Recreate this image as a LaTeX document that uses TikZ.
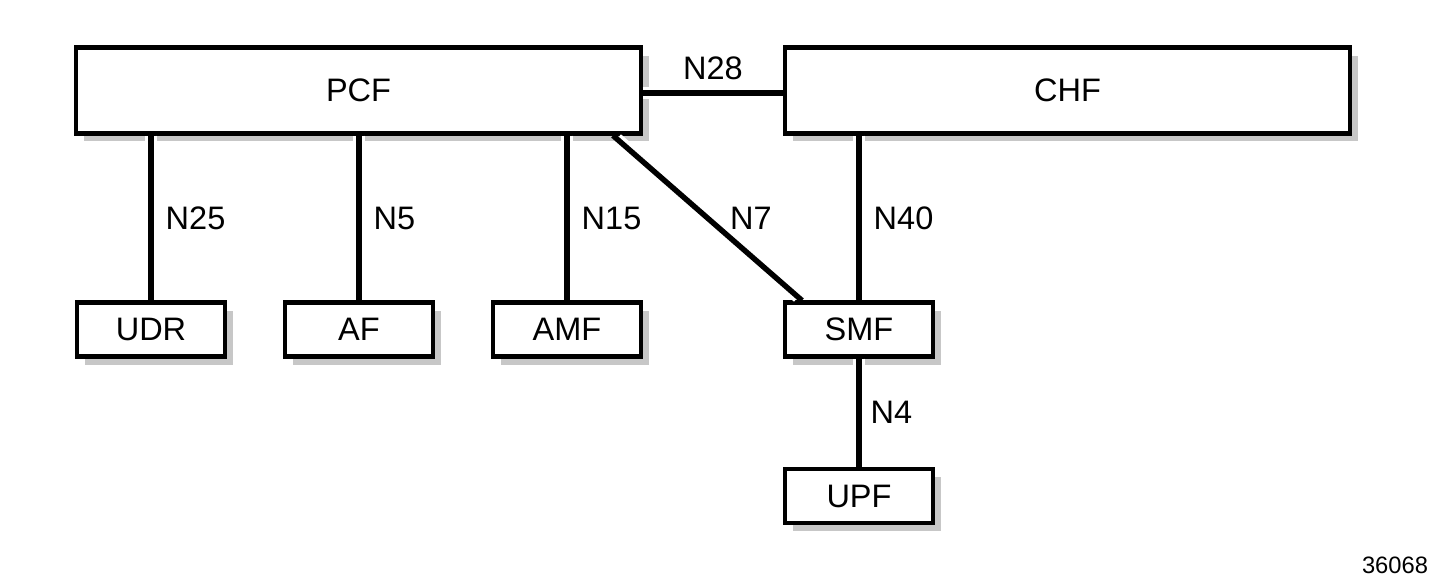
\documentclass[tikz,border=0pt]{standalone}
\usepackage{fontspec}
\setmainfont{Liberation Sans}
\usetikzlibrary{shadows, positioning}

\begin{document}
\begin{tikzpicture}[
  x=0.02cm, y=-0.02cm,
  font=\fontsize{18.5}{21}\selectfont,
  nf/.style={draw, fill=white, line width=2.3pt, inner sep=0pt,
    drop shadow={shadow xshift=0.16cm, shadow yshift=-0.16cm, fill=black!22, opacity=1}},
  bignf/.style={nf, minimum width=11.3cm, minimum height=1.72cm},
  smallnf/.style={nf, minimum width=2.96cm, minimum height=1.08cm},
  link/.style={line width=3.1pt, preaction={draw=white, line width=7pt}},
  slant/.style={line width=3.1pt, preaction={draw=white, line width=7pt, shorten <=3pt, shorten >=3pt}},
  lbl/.style={inner sep=0pt}
]
\useasboundingbox (0,0) rectangle (1435,585);

% Network functions
\node[bignf] (pcf) at (358.5,90.5) {PCF};
\node[bignf] (chf) at (1067.5,90.5) {CHF};
\node[smallnf] (udr) at (151,329.5) {UDR};
\node[smallnf] (af) at (359,329.5) {AF};
\node[smallnf] (amf) at (567,329.5) {AMF};
\node[smallnf] (smf) at (859,329.5) {SMF};
\node[smallnf] (upf) at (859,496) {UPF};

% Reference points
\draw[link] (pcf.east |- 0,93) -- node[lbl, above=0.2cm] {N28} (chf.west |- 0,93);
\draw[link] (pcf.south -| udr.north) -- node[lbl, right=0.24cm] {N25} (udr.north);
\draw[link] (pcf.south -| af.north) -- node[lbl, right=0.24cm] {N5} (af.north);
\draw[link] (pcf.south -| amf.north) -- node[lbl, right=0.24cm] {N15} (amf.north);
\draw[slant] ([xshift=-0.6cm]pcf.south east) -- node[lbl, right=0.4cm] {N7} ([xshift=0.38cm]smf.north west);
\draw[link] (chf.south -| smf.north) -- node[lbl, right=0.24cm] {N40} (smf.north);
\draw[link] (smf) -- node[lbl, right=0.18cm] {N4} (upf);

\node[font=\fontsize{13.5}{16}\selectfont] (fig) at (1395,565) {36068};
\end{tikzpicture}
\end{document}
